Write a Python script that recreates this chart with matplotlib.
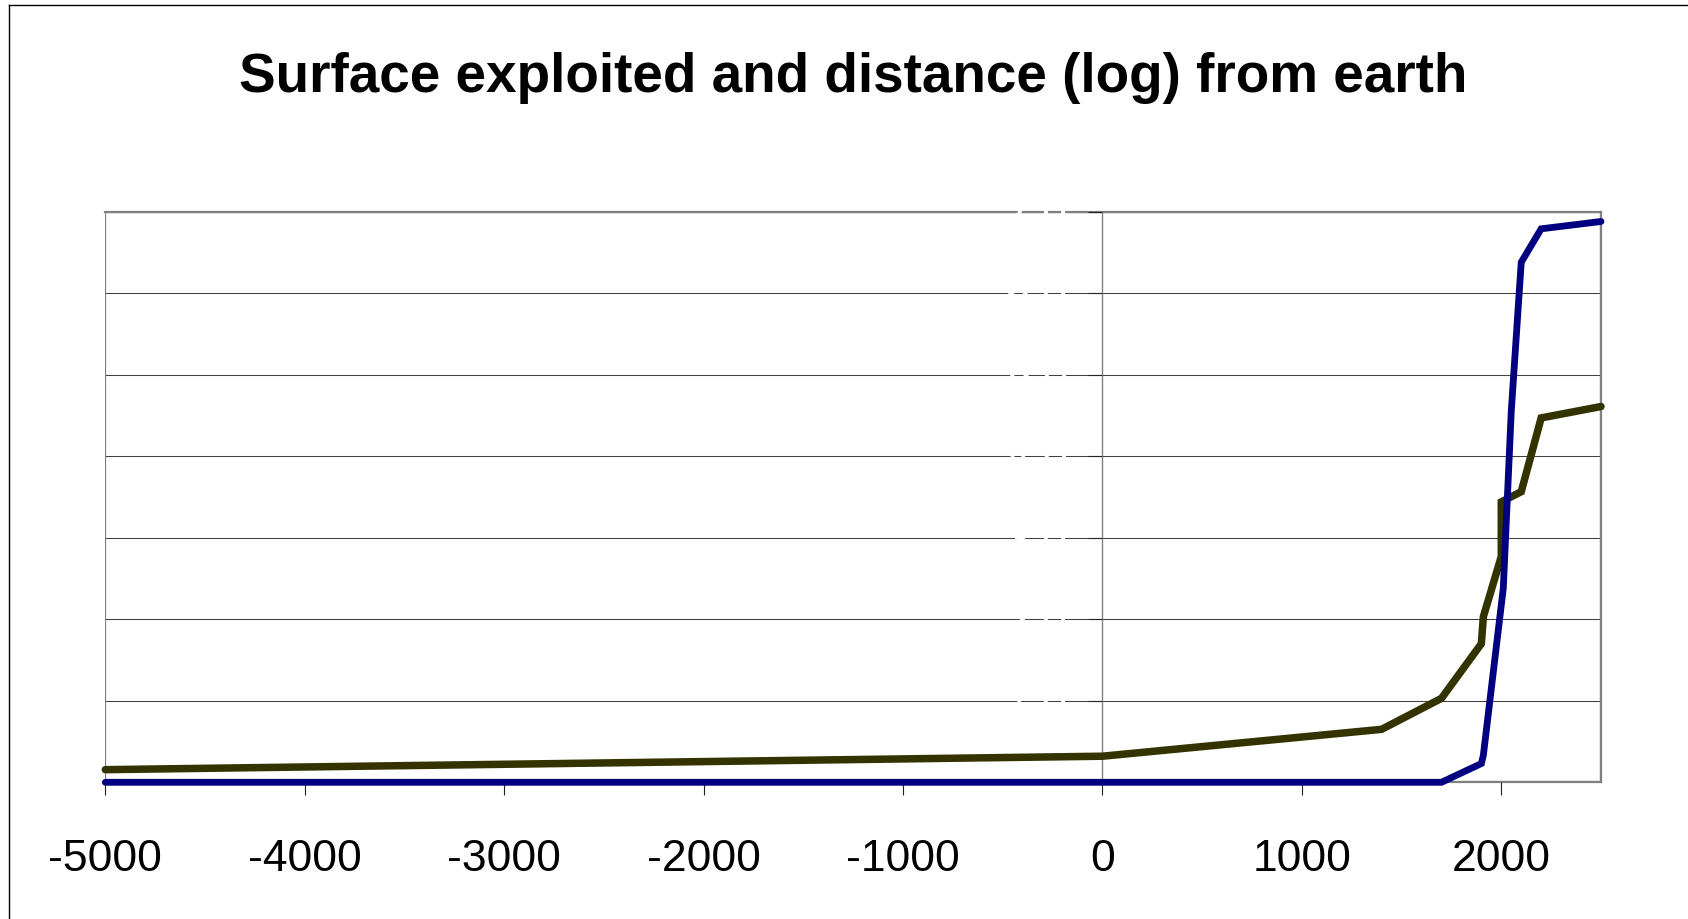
import matplotlib
matplotlib.use('Agg')
import matplotlib.pyplot as plt
from matplotlib.patches import Rectangle
from matplotlib.lines import Line2D

# 数据
years_surface = [-5000, 0, 1400, 1700, 1900, 1910, 2000, 2000, 2100, 2200, 2500]
surface_values = [0.155, 0.32, 0.65, 1.03, 1.70, 2.03, 2.77, 3.44, 3.565, 4.47, 4.61]

years_distance = [-5000, 0, 1400, 1700, 1900, 1910, 2010, 2050, 2100, 2200, 2500]
distance_values = [0, 0, 0, 0, 0.23, 0.33, 2.38, 4.55, 6.38, 6.79, 6.88]

x_ticks = [-5000, -4000, -3000, -2000, -1000, 0, 1000, 2000]
y_ticks = [0, 1, 2, 3, 4, 5, 6, 7]

title = 'Surface exploited and distance (log) from earth'

W, H = 1688, 919


def main():
    plt.rcParams['font.family'] = ['Liberation Sans', 'DejaVu Sans']
    fig = plt.figure(figsize=(W / 100, H / 100), dpi=100)

    # 绘图区位置 (像素)
    left, right, top, bottom = 105.3, 1601, 211.7, 782.3
    ax = fig.add_axes([left / W, 1 - bottom / H, (right - left) / W, (bottom - top) / H])

    ax.set_xlim(-5000, 2500)
    ax.set_ylim(0, 7)

    # 网格线 (手动画, 放在最下面)
    for v in y_ticks[1:]:
        ax.axhline(v, color='#404040', lw=0.75, zorder=1)

    ax.plot(years_surface, surface_values, color='#333300', lw=5.4,
            solid_capstyle='round', solid_joinstyle='miter', clip_on=False, zorder=2)
    ax.plot(years_distance, distance_values, color='#000080', lw=4.9,
            solid_capstyle='round', solid_joinstyle='miter', clip_on=False, zorder=2)

    # 绘图区边框 (灰色)
    for side in ['top', 'right', 'bottom']:
        ax.spines[side].set_color('#808080')
        ax.spines[side].set_linewidth(1.6)
        ax.spines[side].set_zorder(1.5)
    ax.add_patch(Rectangle((0, 0), 1, 1, transform=ax.transAxes, fill=False,
                           edgecolor='#808080', lw=1.6, zorder=1.5))

    # y轴在 x=0 处
    ax.spines['left'].set_position(('data', 0))
    ax.spines['left'].set_color('#808080')
    ax.spines['left'].set_linewidth(1.0)
    ax.spines['left'].set_zorder(1.5)

    ax.set_xticks(x_ticks)
    ax.set_xticklabels([str(v) for v in x_ticks])
    ax.tick_params(axis='x', direction='out', length=9.5, width=0.8, color='#222222',
                   labelsize=32, pad=31)

    # y轴标签是白色的 (原图里看不见)
    ax.set_yticks(y_ticks)
    ax.set_yticklabels([f'{v:.1f}' for v in y_ticks])
    ax.tick_params(axis='y', direction='out', length=10, width=0.8, color='#222222',
                   labelsize=32, labelcolor='white', pad=15)

    # 标题
    fig.text(853.5 / W, 1 - 92 / H, title, ha='center', va='baseline',
             fontsize=39.5, fontweight='bold')

    # 图表外框 (只看得到左边和上边)
    fig.add_artist(Line2D([9 / W, 9 / W], [0, 1 - 5 / H], color='black', lw=1.0))
    fig.add_artist(Line2D([9 / W, 1], [1 - 5 / H, 1 - 5 / H], color='black', lw=1.0))

    fig.savefig('out.png', dpi=100)
    plt.close(fig)


if __name__ == '__main__':
    main()
